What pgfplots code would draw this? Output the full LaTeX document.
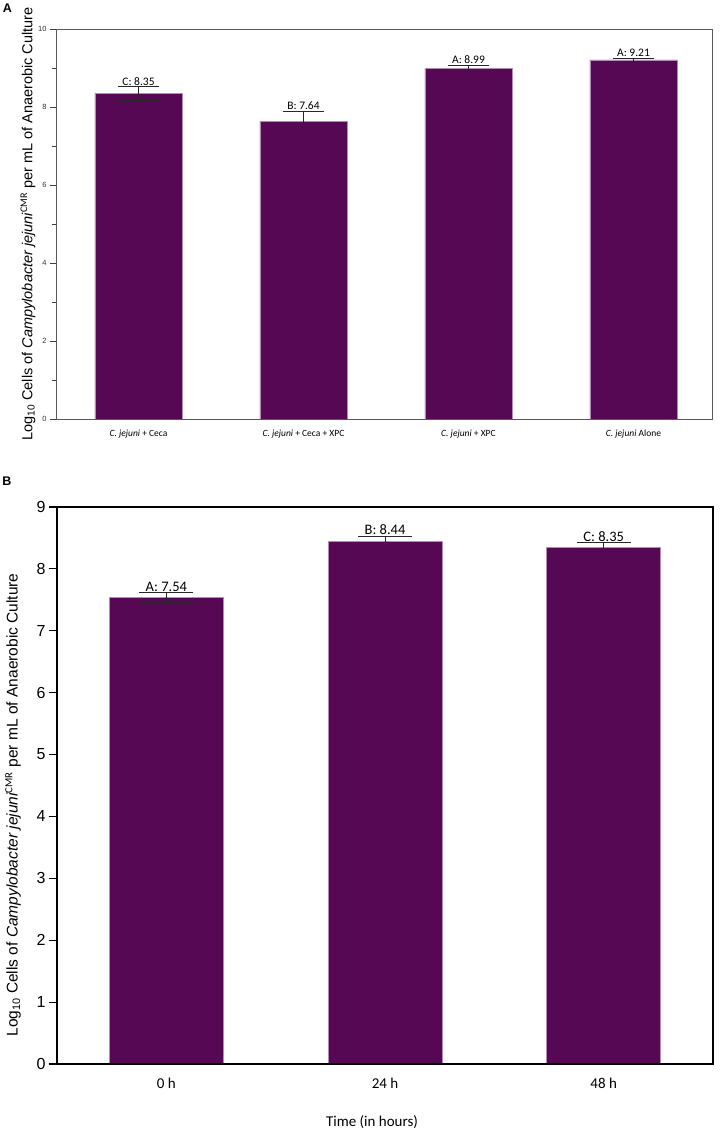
\documentclass[border=0pt]{standalone}
\usepackage{fontspec}
\setmainfont{Carlito}
\newfontfamily\arial{Liberation Sans}
\newfontfamily\carlito{Carlito}
\usepackage{pgfplots}
\pgfplotsset{compat=1.18}
\definecolor{barpurple}{HTML}{560854}
\definecolor{baredge}{HTML}{B58AB5}
\begin{document}
\begin{tikzpicture}[x=1pt,y=1pt]
\useasboundingbox (0,0) rectangle (720,-1135);
% ---------------- Panel A ----------------
\begin{axis}[
  at={(56pt,-419pt)}, anchor=south west, scale only axis,
  width=656pt, height=390pt,
  xmin=-0.5, xmax=3.476, ymin=0, ymax=10,
  axis on top,
  axis line style={draw=black!65, line width=0.8pt},
  ytick={0,2,...,10}, minor ytick={1,3,...,9},
  ytick pos=left, ytick align=outside,
  major tick length=6pt, minor tick length=4pt,
  every tick/.style={black!75, line width=0.8pt},
  xtick={0,1,2,3}, xtick style={draw=none},
  xticklabels={{\textit{C. jejuni} + Ceca},{\textit{C. jejuni} + Ceca + XPC},{\textit{C. jejuni} + XPC},{\textit{C. jejuni} Alone}},
  xticklabel style={font=\carlito\fontsize{9.5}{11}\selectfont, anchor=center, yshift=-15pt},
  yticklabel style={font=\arial\fontsize{7.5}{9}\selectfont, black!80},
  /pgf/number format/assume math mode=true,
]
\addplot[ybar, bar width=87pt, fill=barpurple, draw=baredge, line width=0.6pt,
  error bars/.cd, y dir=both, y explicit,
  error bar style={black!85, line width=0.8pt},
  error mark options={rotate=90, mark size=20.5pt, black!85, line width=0.8pt}]
  coordinates {(0,8.35) +- (0,0.17) (1,7.64) +- (0,0.26) (2,8.99) +- (0,0.08) (3,9.21) +- (0,0.04)};
\addplot[draw=none, mark=none, nodes near coords, point meta=explicit symbolic,
  nodes near coords style={anchor=south, font=\carlito\fontsize{11.5}{13}\selectfont, inner sep=1pt, text=black}]
  coordinates {(0,8.52) [C: 8.35] (1,7.90) [B: 7.64] (2,9.07) [A: 8.99] (3,9.25) [A: 9.21]};
\end{axis}
\node[font=\arial\bfseries\fontsize{12.5}{14}\selectfont] at (7.5,-8.5) {A};
\node[rotate=90, font=\arial\fontsize{14.5}{16}\selectfont] at (28,-224)
  {Log\textsubscript{10} Cells of {\itshape Campylobacter jejuni}\textsuperscript{\carlito CMR} per mL of Anaerobic Culture};
% ---------------- Panel B ----------------
\begin{axis}[
  at={(57pt,-1064pt)}, anchor=south west, scale only axis,
  width=656pt, height=557pt,
  xmin=-0.5, xmax=2.5, ymin=0, ymax=9,
  axis on top,
  axis line style={draw=black, line width=1.1pt},
  ytick={0,1,...,9},
  ytick pos=left, ytick align=outside,
  major tick length=8pt,
  every tick/.style={black, line width=1.1pt},
  xtick={0,1,2}, xtick style={draw=none},
  xticklabels={0 h,24 h,48 h},
  xticklabel style={font=\carlito\fontsize{15}{17}\selectfont, anchor=center, yshift=-19pt},
  yticklabel style={font=\arial\fontsize{16}{18}\selectfont, black},
  /pgf/number format/assume math mode=true,
]
\addplot[ybar, bar width=114pt, fill=barpurple, draw=baredge, line width=0.6pt,
  error bars/.cd, y dir=both, y explicit,
  error bar style={black!85, line width=1pt},
  error mark options={rotate=90, mark size=27pt, black!85, line width=1pt}]
  coordinates {(0,7.54) +- (0,0.075) (1,8.44) +- (0,0.09) (2,8.35) +- (0,0.075)};
\addplot[draw=none, mark=none, nodes near coords, point meta=explicit symbolic,
  nodes near coords style={anchor=south, font=\carlito\fontsize{14.5}{16}\selectfont, inner sep=1pt, text=black}]
  coordinates {(0,7.615) [A: 7.54] (1,8.53) [B: 8.44] (2,8.425) [C: 8.35]};
\end{axis}
\node[font=\arial\bfseries\fontsize{12.5}{14}\selectfont] at (7,-481) {B};
\node[rotate=90, font=\arial\fontsize{15.5}{17}\selectfont] at (13,-805)
  {Log\textsubscript{10} Cells of {\itshape Campylobacter jejuni}\textsuperscript{\carlito CMR} per mL of Anaerobic Culture};
\node[font=\carlito\fontsize{15}{17}\selectfont] at (372,-1122) {Time (in hours)};
\end{tikzpicture}
\end{document}
